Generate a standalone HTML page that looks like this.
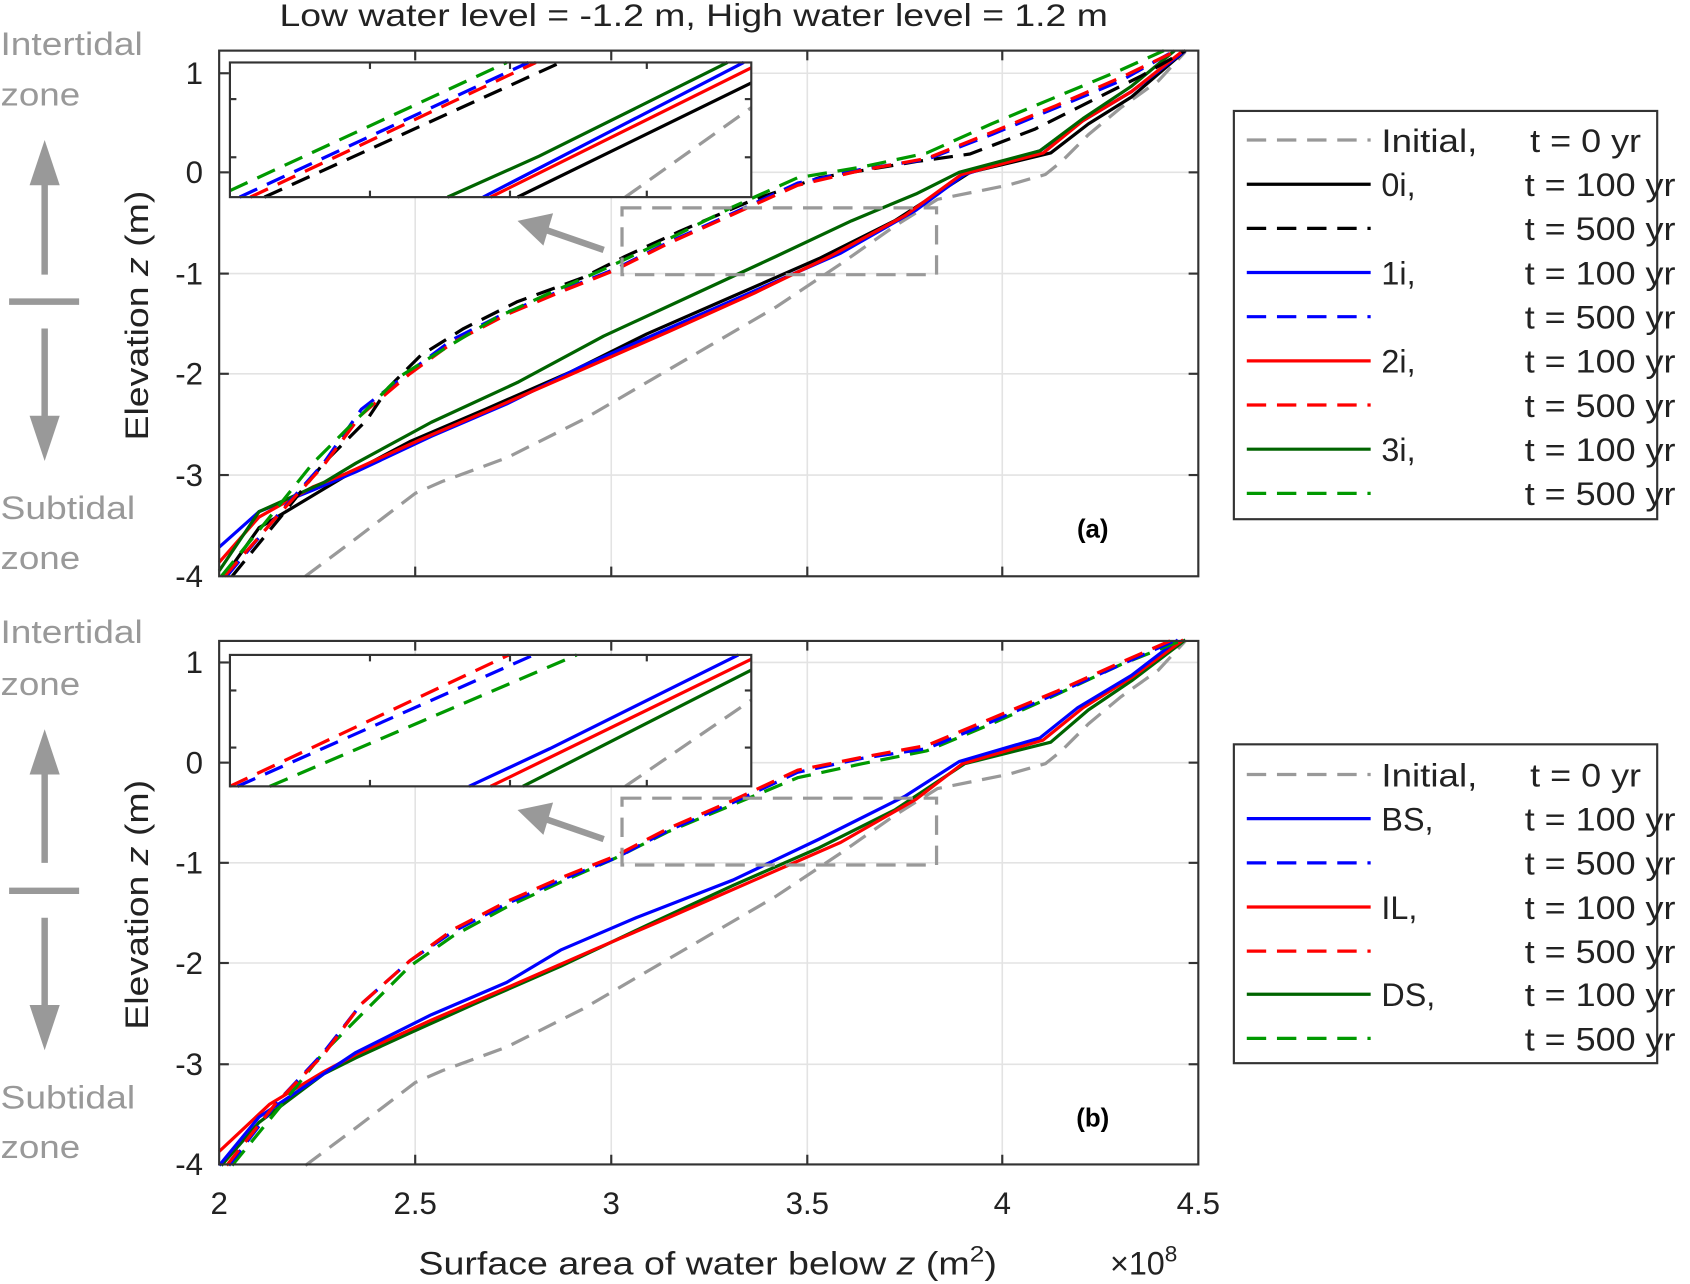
<!DOCTYPE html>
<html><head><meta charset="utf-8"><style>
html,body{margin:0;padding:0;background:#fff}
svg{display:block}
text{font-family:"Liberation Sans",Arial,sans-serif}
</style></head><body>
<svg width="1690" height="1284" viewBox="0 0 1568 1192" xmlns="http://www.w3.org/2000/svg">
<g font-size="29" fill="#222">
<text x="259" y="24" textLength="769" lengthAdjust="spacingAndGlyphs">Low water level = -1.2 m, High water level = 1.2 m</text>
</g>
<!-- left annotations -->
<g fill="#999" font-size="30">
<text x="0" y="51" textLength="132" lengthAdjust="spacingAndGlyphs">Intertidal</text><text x="0" y="98" textLength="74" lengthAdjust="spacingAndGlyphs">zone</text>
<text x="0" y="482" textLength="125" lengthAdjust="spacingAndGlyphs">Subtidal</text><text x="0" y="528" textLength="74" lengthAdjust="spacingAndGlyphs">zone</text>
<text x="0" y="597" textLength="132" lengthAdjust="spacingAndGlyphs">Intertidal</text><text x="0" y="645" textLength="74" lengthAdjust="spacingAndGlyphs">zone</text>
<text x="0" y="1029" textLength="125" lengthAdjust="spacingAndGlyphs">Subtidal</text><text x="0" y="1075" textLength="74" lengthAdjust="spacingAndGlyphs">zone</text>
</g>
<g stroke="#999" stroke-width="6" fill="#999">
<line x1="41" y1="255" x2="41" y2="165"/><polygon points="41,130 27,172 55,172" stroke="none"/>
<line x1="8" y1="280" x2="73" y2="280"/>
<line x1="41" y1="305" x2="41" y2="395"/><polygon points="41,428 27,386 55,386" stroke="none"/>
<line x1="41" y1="801" x2="41" y2="712"/><polygon points="41,677 27,719 55,719" stroke="none"/>
<line x1="8" y1="827" x2="73" y2="827"/>
<line x1="41" y1="852" x2="41" y2="942"/><polygon points="41,975 27,933 55,933" stroke="none"/>
</g>

<!-- PANEL A -->
<g>
<g stroke="#e3e3e3" stroke-width="1.5">
<line x1="385" y1="47" x2="385" y2="535"/><line x1="567" y1="47" x2="567" y2="535"/><line x1="749" y1="47" x2="749" y2="535"/><line x1="930" y1="47" x2="930" y2="535"/>
<line x1="203" y1="68" x2="1112" y2="68"/><line x1="203" y1="160" x2="1112" y2="160"/><line x1="203" y1="254" x2="1112" y2="254"/><line x1="203" y1="347" x2="1112" y2="347"/><line x1="203" y1="441" x2="1112" y2="441"/>
</g>
<g fill="none" stroke-width="3" stroke-linejoin="round">
<polyline stroke="#999" stroke-dasharray="18,10" points="283,535 330,500 385,458 410,447 470,425 540,390 600,355 660,320 720,285 780,245 830,210 870,185 905,178 935,172 970,162 985,150 1010,125 1040,100 1075,75 1100,48"/>
<polyline stroke="#000" points="208,535 240,490 290,460 320,442 380,410 450,380 530,345 600,310 680,275 760,240 830,205 900,160 975,142 1010,115 1050,90 1100,47"/>
<polyline stroke="#00f" points="203,508 240,475 290,455 330,438 400,405 470,375 540,340 620,305 700,270 780,235 850,195 895,162 965,140 1000,115 1050,85 1100,47"/>
<polyline stroke="#f00" points="203,522 240,480 290,452 320,440 390,408 460,378 540,343 620,308 700,272 770,238 840,200 892,162 968,142 1005,112 1050,85 1098,47"/>
<polyline stroke="#006400" points="203,530 240,475 300,448 330,430 400,392 480,355 560,312 640,275 720,238 790,205 850,180 890,160 965,140 1005,110 1050,80 1090,47"/>
<polyline stroke="#000" stroke-dasharray="18,10" points="215,535 260,480 300,430 340,390 360,360 390,330 430,305 480,280 540,258 580,238 630,215 700,185 760,165 850,150 900,143 960,120 1010,95 1060,70 1100,47"/>
<polyline stroke="#00f" stroke-dasharray="18,10" points="210,535 260,475 300,430 335,380 380,345 420,315 470,290 520,270 570,250 620,225 680,198 740,170 800,157 860,148 920,125 980,100 1040,75 1090,47"/>
<polyline stroke="#f00" stroke-dasharray="18,10" points="208,535 258,478 300,432 335,385 380,347 420,318 470,292 520,271 570,251 620,226 680,199 740,172 800,158 860,147 920,123 980,98 1040,72 1092,47"/>
<polyline stroke="#009900" stroke-dasharray="18,10" points="205,535 250,480 290,430 330,390 370,350 410,325 460,295 510,272 560,250 620,222 680,192 740,165 800,155 860,142 920,115 980,90 1040,65 1080,47"/>
</g>
<rect x="577" y="193" width="292" height="62" fill="none" stroke="#999" stroke-width="3" stroke-dasharray="18,10"/>
<g stroke="#999" stroke-width="6" fill="#999"><line x1="560" y1="232" x2="505" y2="213"/><polygon points="480,205 513,198 504,228" stroke="none"/></g>
<rect x="203" y="47" width="909" height="488" fill="none" stroke="#333" stroke-width="2"/>
<g stroke="#333" stroke-width="2">
<line x1="385" y1="47" x2="385" y2="56"/><line x1="567" y1="47" x2="567" y2="56"/><line x1="749" y1="47" x2="749" y2="56"/><line x1="930" y1="47" x2="930" y2="56"/>
<line x1="385" y1="535" x2="385" y2="526"/><line x1="567" y1="535" x2="567" y2="526"/><line x1="749" y1="535" x2="749" y2="526"/><line x1="930" y1="535" x2="930" y2="526"/>
<line x1="203" y1="68" x2="212" y2="68"/><line x1="203" y1="160" x2="212" y2="160"/><line x1="203" y1="254" x2="212" y2="254"/><line x1="203" y1="347" x2="212" y2="347"/><line x1="203" y1="441" x2="212" y2="441"/>
<line x1="1112" y1="160" x2="1103" y2="160"/><line x1="1112" y1="254" x2="1103" y2="254"/><line x1="1112" y1="347" x2="1103" y2="347"/><line x1="1112" y1="441" x2="1103" y2="441"/>
</g>
<rect x="213" y="58" width="484" height="125" fill="#fff"/>
<g fill="none" stroke-width="3">
<line stroke="#999" stroke-dasharray="18,10" x1="580" y1="183" x2="697" y2="100"/>
<line stroke="#000" x1="480" y1="183" x2="697" y2="77"/>
<line stroke="#f00" x1="455" y1="183" x2="697" y2="63"/>
<line stroke="#00f" x1="448" y1="183" x2="690" y2="58"/>
<polyline stroke="#006400" points="415,183 500,145 675,58"/>
<line stroke="#000" stroke-dasharray="18,10" x1="245" y1="183" x2="520" y2="58"/>
<line stroke="#f00" stroke-dasharray="18,10" x1="232" y1="183" x2="497" y2="58"/>
<line stroke="#00f" stroke-dasharray="18,10" x1="222" y1="183" x2="490" y2="58"/>
<line stroke="#009900" stroke-dasharray="18,10" x1="213" y1="177" x2="470" y2="58"/>
</g>
<rect x="213" y="58" width="484" height="125" fill="none" stroke="#333" stroke-width="2"/>
<g stroke="#333" stroke-width="2">
<line x1="343" y1="58" x2="343" y2="64"/><line x1="473" y1="58" x2="473" y2="64"/><line x1="600" y1="58" x2="600" y2="64"/>
<line x1="343" y1="183" x2="343" y2="177"/><line x1="473" y1="183" x2="473" y2="177"/><line x1="600" y1="183" x2="600" y2="177"/>
<line x1="213" y1="92" x2="219" y2="92"/><line x1="213" y1="146" x2="219" y2="146"/><line x1="697" y1="92" x2="691" y2="92"/><line x1="697" y1="146" x2="691" y2="146"/>
</g>
<g font-size="29" fill="#222" text-anchor="end">
<text x="188" y="78">1</text><text x="188" y="170">0</text><text x="188" y="264">-1</text><text x="188" y="357">-2</text><text x="188" y="451">-3</text><text x="188" y="545">-4</text>
</g>
<text x="1014" y="499" font-size="24" font-weight="bold" text-anchor="middle" fill="#000">(a)</text>
<text transform="translate(137,293) rotate(-90)" font-size="30" fill="#222" text-anchor="middle" textLength="232" lengthAdjust="spacingAndGlyphs">Elevation <tspan font-style="italic">z</tspan> (m)</text>
</g>

<!-- PANEL B -->
<g>
<g stroke="#e3e3e3" stroke-width="1.5">
<line x1="385" y1="595" x2="385" y2="1081"/><line x1="567" y1="595" x2="567" y2="1081"/><line x1="749" y1="595" x2="749" y2="1081"/><line x1="930" y1="595" x2="930" y2="1081"/>
<line x1="203" y1="615" x2="1112" y2="615"/><line x1="203" y1="708" x2="1112" y2="708"/><line x1="203" y1="801" x2="1112" y2="801"/><line x1="203" y1="894" x2="1112" y2="894"/><line x1="203" y1="988" x2="1112" y2="988"/>
</g>
<g fill="none" stroke-width="3" stroke-linejoin="round" transform="translate(0,547)">
<polyline stroke="#999" stroke-dasharray="18,10" points="283,535 330,500 385,458 410,447 470,425 540,390 600,355 660,320 720,285 780,245 830,210 870,185 905,178 935,172 970,162 985,150 1010,125 1040,100 1075,75 1100,48"/>
<polyline stroke="#006400" points="205,535 240,495 300,450 330,435 380,412 440,385 520,350 600,312 680,275 760,240 830,205 895,162 975,142 1010,112 1050,85 1100,47"/>
<polyline stroke="#f00" points="203,522 250,478 300,448 330,432 400,400 470,370 550,335 620,305 700,270 780,235 850,195 893,162 968,140 1005,110 1050,82 1098,47"/>
<polyline stroke="#00f" points="203,535 240,490 300,450 330,430 400,395 470,365 520,335 590,305 680,270 760,232 840,192 890,160 965,138 1000,110 1050,80 1093,47"/>
<polyline stroke="#009900" stroke-dasharray="18,10" points="215,535 260,480 300,430 340,390 380,350 420,322 470,295 520,272 570,250 620,225 680,200 740,175 800,162 860,150 920,125 980,98 1040,70 1098,47"/>
<polyline stroke="#00f" stroke-dasharray="18,10" points="212,535 258,475 300,430 335,385 380,345 420,318 470,292 520,270 570,250 620,224 680,198 740,170 800,157 860,148 920,123 980,97 1040,70 1092,47"/>
<polyline stroke="#f00" stroke-dasharray="18,10" points="210,535 255,478 300,432 335,385 380,345 420,316 470,290 520,268 570,248 620,222 680,196 740,168 800,156 860,145 920,120 980,95 1040,68 1088,47"/>
</g>
<rect x="577" y="741" width="292" height="62" fill="none" stroke="#999" stroke-width="3" stroke-dasharray="18,10"/>
<g stroke="#999" stroke-width="6" fill="#999"><line x1="560" y1="779" x2="505" y2="760"/><polygon points="480,752 513,745 504,775" stroke="none"/></g>
<rect x="203" y="595" width="909" height="486" fill="none" stroke="#333" stroke-width="2"/>
<g stroke="#333" stroke-width="2">
<line x1="385" y1="595" x2="385" y2="604"/><line x1="567" y1="595" x2="567" y2="604"/><line x1="749" y1="595" x2="749" y2="604"/><line x1="930" y1="595" x2="930" y2="604"/>
<line x1="385" y1="1081" x2="385" y2="1072"/><line x1="567" y1="1081" x2="567" y2="1072"/><line x1="749" y1="1081" x2="749" y2="1072"/><line x1="930" y1="1081" x2="930" y2="1072"/>
<line x1="203" y1="615" x2="212" y2="615"/><line x1="203" y1="708" x2="212" y2="708"/><line x1="203" y1="801" x2="212" y2="801"/><line x1="203" y1="894" x2="212" y2="894"/><line x1="203" y1="988" x2="212" y2="988"/>
<line x1="1112" y1="708" x2="1103" y2="708"/><line x1="1112" y1="801" x2="1103" y2="801"/><line x1="1112" y1="894" x2="1103" y2="894"/><line x1="1112" y1="988" x2="1103" y2="988"/>
</g>
<rect x="213" y="608" width="484" height="122" fill="#fff"/>
<g fill="none" stroke-width="3">
<line stroke="#999" stroke-dasharray="18,10" x1="580" y1="730" x2="697" y2="650"/>
<line stroke="#006400" x1="485" y1="730" x2="697" y2="622"/>
<line stroke="#f00" x1="455" y1="730" x2="697" y2="612"/>
<polyline stroke="#00f" points="435,730 510,695 685,608"/>
<line stroke="#009900" stroke-dasharray="18,10" x1="250" y1="730" x2="535" y2="608"/>
<line stroke="#00f" stroke-dasharray="18,10" x1="220" y1="730" x2="495" y2="608"/>
<line stroke="#f00" stroke-dasharray="18,10" x1="213" y1="730" x2="472" y2="608"/>
</g>
<rect x="213" y="608" width="484" height="122" fill="none" stroke="#333" stroke-width="2"/>
<g stroke="#333" stroke-width="2">
<line x1="343" y1="608" x2="343" y2="614"/><line x1="473" y1="608" x2="473" y2="614"/><line x1="600" y1="608" x2="600" y2="614"/>
<line x1="343" y1="730" x2="343" y2="724"/><line x1="473" y1="730" x2="473" y2="724"/><line x1="600" y1="730" x2="600" y2="724"/>
<line x1="213" y1="641" x2="219" y2="641"/><line x1="213" y1="694" x2="219" y2="694"/><line x1="697" y1="641" x2="691" y2="641"/><line x1="697" y1="694" x2="691" y2="694"/>
</g>
<g font-size="29" fill="#222" text-anchor="end">
<text x="188" y="625">1</text><text x="188" y="718">0</text><text x="188" y="811">-1</text><text x="188" y="904">-2</text><text x="188" y="998">-3</text><text x="188" y="1091">-4</text>
</g>
<g font-size="29" fill="#222" text-anchor="middle">
<text x="203" y="1127">2</text><text x="385" y="1127">2.5</text><text x="567" y="1127">3</text><text x="749" y="1127">3.5</text><text x="930" y="1127">4</text><text x="1112" y="1127">4.5</text>
</g>
<text x="1014" y="1046" font-size="24" font-weight="bold" text-anchor="middle" fill="#000">(b)</text>
<text transform="translate(137,840) rotate(-90)" font-size="30" fill="#222" text-anchor="middle" textLength="232" lengthAdjust="spacingAndGlyphs">Elevation <tspan font-style="italic">z</tspan> (m)</text>
<text x="388" y="1183" font-size="30" fill="#222" textLength="537" lengthAdjust="spacingAndGlyphs">Surface area of water below <tspan font-style="italic">z</tspan> (m<tspan font-size="21" dy="-12">2</tspan><tspan dy="12">)</tspan></text>
<text x="1030" y="1183" font-size="30" fill="#222">×10<tspan font-size="21" dy="-12">8</tspan></text>
</g>

<!-- LEGEND A -->
<rect x="1145" y="103" width="393" height="379" fill="#fff" stroke="#333" stroke-width="2"/>
<g stroke-width="3">
<line x1="1157" y1="130" x2="1272" y2="130" stroke="#999" stroke-dasharray="18,10"/>
<line x1="1157" y1="171" x2="1272" y2="171" stroke="#000"/>
<line x1="1157" y1="212" x2="1272" y2="212" stroke="#000" stroke-dasharray="18,10"/>
<line x1="1157" y1="253" x2="1272" y2="253" stroke="#00f"/>
<line x1="1157" y1="294" x2="1272" y2="294" stroke="#00f" stroke-dasharray="18,10"/>
<line x1="1157" y1="335" x2="1272" y2="335" stroke="#f00"/>
<line x1="1157" y1="376" x2="1272" y2="376" stroke="#f00" stroke-dasharray="18,10"/>
<line x1="1157" y1="417" x2="1272" y2="417" stroke="#006400"/>
<line x1="1157" y1="458" x2="1272" y2="458" stroke="#009900" stroke-dasharray="18,10"/>
</g>
<g font-size="30" fill="#222">
<text x="1282" y="141" textLength="89" lengthAdjust="spacingAndGlyphs">Initial,</text><text x="1282" y="182">0i,</text><text x="1282" y="264">1i,</text><text x="1282" y="346">2i,</text><text x="1282" y="428">3i,</text>
<text x="1420" y="141" textLength="103" lengthAdjust="spacingAndGlyphs">t = 0 yr</text>
<text x="1415" y="182" textLength="140" lengthAdjust="spacingAndGlyphs">t = 100 yr</text><text x="1415" y="223" textLength="140" lengthAdjust="spacingAndGlyphs">t = 500 yr</text>
<text x="1415" y="264" textLength="140" lengthAdjust="spacingAndGlyphs">t = 100 yr</text><text x="1415" y="305" textLength="140" lengthAdjust="spacingAndGlyphs">t = 500 yr</text>
<text x="1415" y="346" textLength="140" lengthAdjust="spacingAndGlyphs">t = 100 yr</text><text x="1415" y="387" textLength="140" lengthAdjust="spacingAndGlyphs">t = 500 yr</text>
<text x="1415" y="428" textLength="140" lengthAdjust="spacingAndGlyphs">t = 100 yr</text><text x="1415" y="469" textLength="140" lengthAdjust="spacingAndGlyphs">t = 500 yr</text>
</g>

<!-- LEGEND B -->
<rect x="1145" y="691" width="393" height="296" fill="#fff" stroke="#333" stroke-width="2"/>
<g stroke-width="3">
<line x1="1157" y1="719" x2="1272" y2="719" stroke="#999" stroke-dasharray="18,10"/>
<line x1="1157" y1="760" x2="1272" y2="760" stroke="#00f"/>
<line x1="1157" y1="801" x2="1272" y2="801" stroke="#00f" stroke-dasharray="18,10"/>
<line x1="1157" y1="842" x2="1272" y2="842" stroke="#f00"/>
<line x1="1157" y1="883" x2="1272" y2="883" stroke="#f00" stroke-dasharray="18,10"/>
<line x1="1157" y1="923" x2="1272" y2="923" stroke="#006400"/>
<line x1="1157" y1="964" x2="1272" y2="964" stroke="#009900" stroke-dasharray="18,10"/>
</g>
<g font-size="30" fill="#222">
<text x="1282" y="730" textLength="89" lengthAdjust="spacingAndGlyphs">Initial,</text><text x="1282" y="771">BS,</text><text x="1282" y="853">IL,</text><text x="1282" y="934">DS,</text>
<text x="1420" y="730" textLength="103" lengthAdjust="spacingAndGlyphs">t = 0 yr</text>
<text x="1415" y="771" textLength="140" lengthAdjust="spacingAndGlyphs">t = 100 yr</text><text x="1415" y="812" textLength="140" lengthAdjust="spacingAndGlyphs">t = 500 yr</text>
<text x="1415" y="853" textLength="140" lengthAdjust="spacingAndGlyphs">t = 100 yr</text><text x="1415" y="894" textLength="140" lengthAdjust="spacingAndGlyphs">t = 500 yr</text>
<text x="1415" y="934" textLength="140" lengthAdjust="spacingAndGlyphs">t = 100 yr</text><text x="1415" y="975" textLength="140" lengthAdjust="spacingAndGlyphs">t = 500 yr</text>
</g>
</svg>
</body></html>
